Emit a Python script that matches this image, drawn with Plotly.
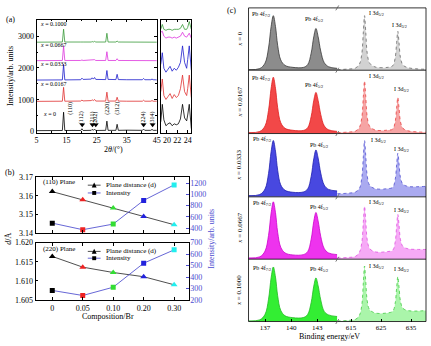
import plotly.graph_objects as go

W, H = 431, 346
SERIF = "Liberation Serif"


def px(x):
    return x / W


def py(y):
    return 1 - y / H


# ---------------- (a) XRD patterns ----------------
two_theta = [5, 13.6, 14.0, 14.4, 19.7, 20.1, 20.5, 23.2, 23.5, 23.9, 24.3, 24.7,
             28.0, 28.4, 28.8, 31.4, 31.8, 32.2, 35.0, 40.2, 40.6, 41.0, 43.0, 43.4, 43.8, 45]
xrd_x0 = [30, 35, 610, 35, 35, 90, 35, 40, 70, 40, 80, 35,
          40, 330, 40, 40, 230, 40, 45, 40, 80, 40, 40, 70, 40, 40]
xrd_x0167 = [950, 955, 1390, 955, 960, 990, 965, 975, 1000, 975, 1010, 960,
             960, 1240, 960, 960, 1080, 960, 955, 955, 985, 955, 955, 975, 955, 955]
xrd_x0333 = [1620, 1625, 2110, 1625, 1630, 1680, 1640, 1650, 1690, 1650, 1700, 1640,
             1635, 1920, 1640, 1635, 1800, 1635, 1630, 1630, 1670, 1630, 1630, 1650, 1630, 1625]
xrd_x0667 = [2230, 2235, 2690, 2235, 2235, 2250, 2235, 2240, 2255, 2240, 2260, 2235,
             2235, 2510, 2235, 2235, 2290, 2235, 2232, 2232, 2245, 2232, 2232, 2240, 2232, 2230]
xrd_x1000 = [2810, 2815, 3220, 2815, 2815, 2825, 2815, 2815, 2830, 2815, 2835, 2815,
             2815, 3090, 2815, 2815, 2845, 2815, 2812, 2812, 2822, 2812, 2812, 2818, 2812, 2810]
xrd_names = ["<i>x</i> = 0", "<i>x</i> = 0.0167", "<i>x</i> = 0.0333",
             "<i>x</i> = 0.0667", "<i>x</i> = 0.1000"]
xrd_colors = ["#000000", "#e03030", "#1c1ccc", "#dd33dd", "#3a9a3a"]

# enlarged 19-25 degree window
inset_theta = [18.8, 19.1, 19.4, 19.8, 20.2, 20.6, 21.0, 21.4, 21.8, 22.2, 22.6,
               23.0, 23.4, 23.8, 24.0, 24.3, 24.7]
inset_x0 = [11, 29, 13, 7, 9, 10, 7, 9, 8, 9, 14, 29, 15, 12, 18, 29, 4]
inset_x0167 = [42, 55, 38, 34, 37, 40, 35, 39, 36, 38, 45, 59, 42, 38, 45, 59, 36]
inset_x0333 = [70, 82, 66, 62, 65, 68, 63, 66, 64, 67, 72, 89, 72, 66, 75, 89, 64]
inset_x0667 = [103, 104, 99, 97, 98, 98, 97, 98, 97, 98, 99, 103, 99, 98, 100, 102, 97]
inset_x1000 = [106, 111, 106, 105, 106, 106, 105, 106, 106, 106, 107, 111, 106, 106, 108, 114, 106]

hkl_labels = ["(110)", "(112)", "(211)", "(202)", "(220)", "(312)", "(224)", "(314)"]
hkl_theta = [16.3, 20.2, 23.6, 24.7, 28.6, 31.9, 40.6, 43.6]
hkl_marked = [False, True, True, True, False, False, True, True]

# ---------------- (b) lattice spacing and intensity ----------------
compositions = ["0", "0.05", "0.10", "0.20", "0.30"]
d_110 = [3.1623, 3.1579, 3.1535, 3.1488, 3.1444]
int_110 = [487, 370, 470, 893, 1170]
d_220 = [1.6164, 1.6136, 1.6122, 1.6111, 1.6090]
int_220 = [284, 240, 312, 521, 637]
point_colors = ["#000000", "#ee2222", "#33dd33", "#2222dd", "#22eeee"]

# ---------------- (c) XPS spectra ----------------
pb_energy = [135.1, 136.4, 137.0, 137.4, 137.7, 137.95, 138.2, 138.45, 138.8, 139.3, 140.2,
             141.4, 141.9, 142.3, 142.6, 142.85, 143.1, 143.4, 143.8, 144.3, 145.3]
pb_x0 = [.010, .027, .114, .356, .702, .875, .702, .399, .166, .077, .046,
         .045, .089, .274, .538, .670, .538, .307, .122, .056, .030]
pb_x0167 = [.015, .033, .120, .365, .715, .890, .715, .409, .173, .082, .051,
            .049, .091, .269, .523, .650, .523, .301, .123, .059, .034]
pb_x0333 = [.020, .037, .124, .368, .716, .890, .722, .421, .190, .103, .072,
            .077, .125, .322, .602, .740, .612, .375, .185, .118, .093]
pb_x0667 = [.020, .038, .130, .380, .740, .920, .746, .431, .193, .100, .068,
            .073, .121, .320, .607, .750, .612, .365, .171, .100, .073]
pb_x1000 = [.010, .027, .115, .358, .703, .875, .713, .413, .180, .092, .062,
            .064, .114, .304, .568, .700, .575, .347, .162, .106, .080]

i_energy = [610.4, 614.0, 616.5, 617.8, 618.6, 619.1, 619.5, 619.9, 620.4, 621.2, 623.0,
            627.0, 628.9, 629.7, 630.2, 630.6, 631.0, 631.5, 632.3, 634.0, 637.0, 640.0]
i_x0 = [.010, .019, .036, .097, .270, .616, .875, .616, .270, .114, .053,
        .045, .072, .195, .441, .625, .441, .195, .084, .041, .022, .016]
i_x0167 = [.015, .023, .039, .097, .260, .586, .830, .586, .260, .113, .056,
           .053, .071, .182, .404, .570, .404, .182, .082, .043, .026, .021]
i_x0333 = [.050, .058, .077, .134, .310, .640, .890, .650, .330, .183, .129,
           .129, .150, .269, .506, .690, .526, .299, .200, .164, .160, .166]
i_x0667 = [.020, .028, .046, .110, .275, .600, .850, .620, .310, .171, .118,
           .121, .145, .272, .525, .720, .550, .310, .204, .166, .157, .156]
i_x1000 = [.010, .018, .035, .099, .272, .630, .890, .650, .330, .190, .137,
           .137, .165, .290, .540, .720, .560, .320, .212, .175, .168, .176]

xps_names = ["<i>x</i> = 0", "<i>x</i> = 0.0167", "<i>x</i> = 0.0333",
             "<i>x</i> = 0.0667", "<i>x</i> = 0.1000"]
pb_fill = ["#8c8c8c", "#f24848", "#4848e0", "#ee33ee", "#33ee33"]
pb_line = ["#3a3a3a", "#e02020", "#2020b0", "#cc00cc", "#22bb22"]
i_fill = ["#d2d2d2", "#f6a4a4", "#aaaaf0", "#f6aaf6", "#aaf5aa"]
i_line = ["#6a6a6a", "#e84040", "#5050d0", "#e050e0", "#44cc44"]
peak_names = ["Pb 4f<sub>7/2</sub>", "Pb 4f<sub>5/2</sub>",
              "I 3d<sub>5/2</sub>", "I 3d<sub>3/2</sub>"]

fig = go.Figure()

# ---- (a) traces ----
for ys, col in zip([xrd_x0, xrd_x0167, xrd_x0333, xrd_x0667, xrd_x1000], xrd_colors):
    fig.add_trace(go.Scatter(x=two_theta, y=ys, mode="lines", line=dict(color=col, width=0.8),
                             xaxis="x", yaxis="y", showlegend=False))
for ys, col in zip([inset_x0, inset_x0167, inset_x0333, inset_x0667, inset_x1000], xrd_colors):
    fig.add_trace(go.Scatter(x=inset_theta, y=ys, mode="lines", line=dict(color=col, width=0.8),
                             xaxis="x2", yaxis="y2", showlegend=False))
marked_theta = [t for t, m in zip(hkl_theta, hkl_marked) if m]
fig.add_trace(go.Scatter(x=marked_theta, y=[215] * len(marked_theta), mode="markers",
                         marker=dict(symbol="triangle-down", size=5, color="black"),
                         xaxis="x", yaxis="y", showlegend=False))

# ---- (b) traces ----
for dvals, ivals, xa, ya, yr in [(d_110, int_110, "x3", "y3", "y4"),
                                 (d_220, int_220, "x5", "y5", "y6")]:
    fig.add_trace(go.Scatter(x=compositions, y=dvals, mode="lines+markers",
                             line=dict(color="#222222", width=0.8),
                             marker=dict(symbol="triangle-up", size=6, color=point_colors),
                             xaxis=xa, yaxis=ya, showlegend=False))
    fig.add_trace(go.Scatter(x=compositions, y=ivals, mode="lines+markers",
                             line=dict(color="#4040cc", width=0.8),
                             marker=dict(symbol="square", size=5, color=point_colors),
                             xaxis=xa, yaxis=yr, showlegend=False))

# ---- (c) traces ----
pb_sets = [pb_x0, pb_x0167, pb_x0333, pb_x0667, pb_x1000]
i_sets = [i_x0, i_x0167, i_x0333, i_x0667, i_x1000]
for k in range(5):
    ya = "y%d" % (7 + k)
    fig.add_trace(go.Scatter(x=pb_energy, y=pb_sets[k], mode="lines", fill="tozeroy",
                             fillcolor=pb_fill[k], line=dict(color=pb_line[k], width=0.8, shape="spline"),
                             xaxis="x7", yaxis=ya, showlegend=False))
    fig.add_trace(go.Scatter(x=i_energy, y=i_sets[k], mode="lines", fill="tozeroy",
                             fillcolor=i_fill[k],
                             line=dict(color=i_line[k], width=0.8, dash="dot", shape="spline"),
                             xaxis="x8", yaxis=ya, showlegend=False))

axis_common = dict(showline=True, linecolor="black", linewidth=0.8, ticks="inside",
                   ticklen=3, tickwidth=0.7, tickcolor="black", showgrid=False,
                   zeroline=False, tickfont=dict(family=SERIF, size=8, color="black"))

layout = dict(
    width=W, height=H, autosize=False,
    margin=dict(l=0, r=0, t=0, b=0),
    paper_bgcolor="white", plot_bgcolor="rgba(0,0,0,0)",
    font=dict(family=SERIF, size=8, color="black"),
    showlegend=False,
)

# (a) axes
layout["xaxis"] = dict(axis_common, domain=[px(35), px(157)], range=[5, 45], anchor="y",
                       tickvals=[5, 15, 25, 35, 45], mirror="ticks",
                       minor=dict(ticks="inside", ticklen=2, dtick=5, tick0=5, tickcolor="black"))
layout["yaxis"] = dict(axis_common, domain=[py(132), py(16)], range=[-30, 3520], anchor="x",
                       tickvals=[0, 1000, 2000, 3000], mirror="ticks",
                       minor=dict(ticks="inside", ticklen=2, dtick=500, tickcolor="black"))
layout["xaxis2"] = dict(axis_common, domain=[px(161), px(192)], range=[18.8, 24.7], anchor="y2",
                        tickvals=[20, 22, 24], mirror="ticks")
layout["yaxis2"] = dict(axis_common, domain=[py(132), py(16)], range=[0, 116], anchor="x2",
                        showticklabels=False, ticks="", mirror=True)

# (b) axes
blue = "#4b4bd0"
bx_dom = [px(34), px(190)]
layout["xaxis3"] = dict(axis_common, domain=bx_dom, anchor="y3", type="category",
                        range=[-0.55, 4.5], showticklabels=False, mirror="ticks")
layout["yaxis3"] = dict(axis_common, domain=[py(235), py(178)], anchor="x3",
                        range=[3.14, 3.17], tickvals=[3.14, 3.15, 3.16, 3.17],
                        tickformat=".2f", mirror=True)
layout["yaxis4"] = dict(axis_common, overlaying="y3", side="right", anchor="x3",
                        range=[313, 1304], tickvals=[400, 600, 800, 1000, 1200],
                        showline=False, tickcolor=blue,
                        tickfont=dict(family=SERIF, size=8, color=blue))
layout["xaxis5"] = dict(axis_common, domain=bx_dom, anchor="y5", type="category",
                        range=[-0.55, 4.5], mirror="ticks")
layout["yaxis5"] = dict(axis_common, domain=[py(304), py(245)], anchor="x5",
                        range=[1.605, 1.620], tickvals=[1.605, 1.610, 1.615, 1.620],
                        tickformat=".3f", mirror=True)
layout["yaxis6"] = dict(axis_common, overlaying="y5", side="right", anchor="x5",
                        range=[200, 700], tickvals=[200, 300, 400, 500, 600, 700],
                        showline=False, tickcolor=blue,
                        tickfont=dict(family=SERIF, size=8, color=blue))

# (c) axes
c_rows = [(4, 68), (68, 133), (133, 198), (198, 262), (262, 326)]
layout["xaxis7"] = dict(axis_common, domain=[px(250), px(340)], range=[135.1, 145.3],
                        anchor="y11", tickvals=[137, 140, 143], showline=False,
                        tickfont=dict(family=SERIF, size=7, color="black"))
layout["xaxis8"] = dict(axis_common, domain=[px(340), px(430)], range=[610.4, 640],
                        anchor="y11", tickvals=[615, 625, 635], showline=False,
                        tickfont=dict(family=SERIF, size=7, color="black"))
for k, (top, bot) in enumerate(c_rows):
    layout["yaxis%d" % (7 + k)] = dict(domain=[py(bot), py(top)], range=[0, 1],
                                       anchor="x7", visible=False)

shapes = []
ln = dict(color="black", width=0.8)
shapes.append(dict(type="rect", xref="paper", yref="paper", x0=px(250), x1=px(430),
                   y0=py(326), y1=py(4), line=ln))
for _, bot in c_rows[:-1]:
    shapes.append(dict(type="line", xref="paper", yref="paper", x0=px(250), x1=px(430),
                       y0=py(bot), y1=py(bot), line=ln))
for yy in [4] + [b for _, b in c_rows]:
    shapes.append(dict(type="line", xref="paper", yref="paper", x0=px(338.5), x1=px(341.5),
                       y0=py(yy + 2.5), y1=py(yy - 2.5), line=dict(color="#555555", width=0.8)))

# (b) legend glyphs
for ly_d, ly_i in [(186, 194), (254, 261)]:
    shapes.append(dict(type="line", xref="paper", yref="paper", x0=px(87), x1=px(100),
                       y0=py(ly_d), y1=py(ly_d), line=dict(color="#222222", width=0.8)))
    shapes.append(dict(type="path", xref="paper", yref="paper",
                       path="M %f,%f L %f,%f L %f,%f Z" % (px(91), py(ly_d + 2.3), px(96), py(ly_d + 2.3),
                                                           px(93.5), py(ly_d - 2.7)),
                       fillcolor="black", line=dict(width=0)))
    shapes.append(dict(type="line", xref="paper", yref="paper", x0=px(87), x1=px(100),
                       y0=py(ly_i), y1=py(ly_i), line=dict(color="#4040cc", width=0.8)))
    shapes.append(dict(type="rect", xref="paper", yref="paper", x0=px(91.5), x1=px(95.5),
                       y0=py(ly_i + 2), y1=py(ly_i - 2), fillcolor="black", line=dict(width=0)))
layout["shapes"] = shapes

ann = []


def text(x, y, s, size=8, anchor="center", angle=0, color="black"):
    ann.append(dict(xref="paper", yref="paper", x=px(x), y=py(y), text=s, showarrow=False,
                    xanchor=anchor, yanchor="middle", textangle=angle,
                    font=dict(family=SERIF, size=size, color=color)))


# (a) annotations
text(9, 16, "(a)", 8)
text(8, 74, "Intensity/arb. units", 8, angle=-90)
text(113, 149, "2<i>θ</i>/(°)", 8)
for s, y in zip(xrd_names, [113, 82, 62, 42, 21]):
    text(37 if y < 110 else 40, y, s, 6, anchor="left")
for s, t, m in zip(hkl_labels, hkl_theta, hkl_marked):
    ann.append(dict(xref="x", yref="y", x=t, y=430 if m else 735, text=s, showarrow=False,
                    textangle=-90, font=dict(family=SERIF, size=6, color="black")))

# (b) annotations
text(8, 173, "(b)", 8)
text(7, 241, "<i>d</i>/Å", 8, angle=-90)
text(213, 241, "Intensity/arb. units", 8, angle=-90, color=blue)
text(108, 321, "Composition/Br", 8)
text(40, 183, "(110) Plane", 7, anchor="left")
text(40, 252, "(220) Plane", 7, anchor="left")
for yd, yi in [(186, 194), (254, 261)]:
    text(103, yd, "Plane distance (d)", 7, anchor="left")
    text(103, yi, "Intensity", 7, anchor="left")

# (c) annotations
text(233, 7, "(c)", 8)
text(332, 341, "Binding energy/eV", 8)
label_pos = [
    [(252, 11), (305, 16), (370, 10), (393, 22)],
    [(252, 76), (305, 84), (370, 74), (395, 88)],
    [(253, 139), (310, 145), (372, 140), (396, 149)],
    [(253, 205), (310, 209), (370, 204), (396, 212)],
    [(253, 272), (310, 273), (370, 269), (395, 273)],
]
for k, (top, bot) in enumerate(c_rows):
    text(241, (top + bot) / 2, xps_names[k], 7, angle=-90)
    for s, (x, y) in zip(peak_names, label_pos[k]):
        text(x, y, s, 6, anchor="left")

layout["annotations"] = ann
fig.update_layout(**layout)
fig.write_html("out.html")
